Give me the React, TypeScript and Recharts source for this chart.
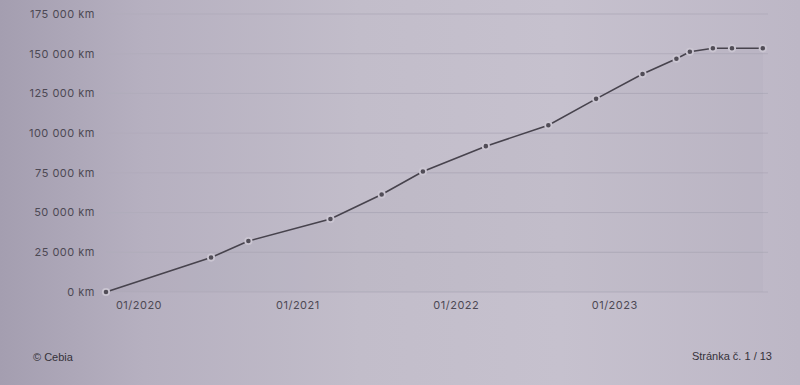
import React from "react";
import { ComposedChart, Area, Line, XAxis, YAxis, CartesianGrid } from "recharts";

// readings (date of inspection / odometer)
const DATES = [
  "2019-10-17", "2020-06-15", "2020-09-09", "2021-03-17", "2021-07-13",
  "2021-10-16", "2022-03-10", "2022-08-01", "2022-11-19", "2023-03-06",
  "2023-05-23", "2023-06-23", "2023-08-15", "2023-09-28", "2023-12-08",
];
const KM = [
  0, 21700, 32100, 46000, 61400,
  75900, 91800, 105000, 121600, 137200,
  146800, 151200, 153400, 153400, 153400,
];
const X_TICKS = ["2020-01-01", "2021-01-01", "2022-01-01", "2023-01-01"];
const Y_TICKS = [0, 25000, 50000, 75000, 100000, 125000, 150000, 175000];
const X_DOMAIN = ["2019-10-17", "2023-12-20"];

const ts = (d: string) => new Date(d + "T00:00:00Z").getTime();

const data = DATES.map((d, i) => ({ t: ts(d), km: KM[i] }));

const fmtKm = (v: number) => String(v).replace(/\B(?=(\d{3})+(?!\d))/g, " ") + " km";
const fmtMonth = (v: number) => {
  const d = new Date(v);
  return String(d.getUTCMonth() + 1).padStart(2, "0") + "/" + d.getUTCFullYear();
};

const tickStyle = {
  fontSize: 11,
  fill: "#4d4954",
  fontFamily: "Inter, 'Open Sans', sans-serif",
  letterSpacing: "0.5px",
};

export default function App() {
  return (
    <div
      style={{
        position: "absolute",
        left: 0,
        top: 0,
        width: 800,
        height: 385,
        overflow: "hidden",
        background:
          "linear-gradient(to right, #a49eb0 0%, #b6b0c0 18%, #c2bdca 45%, #c6c1ce 70%, #bdb7c6 100%)",
      }}
    >
      <ComposedChart
        width={800}
        height={330}
        data={data}
        margin={{ top: 14, right: 32, left: 0, bottom: 8 }}
      >
        <CartesianGrid vertical={false} stroke="#b1acbb" strokeWidth={1} />
        <XAxis
          dataKey="t"
          type="number"
          scale="time"
          domain={X_DOMAIN.map(ts)}
          ticks={X_TICKS.map(ts)}
          tickFormatter={fmtMonth}
          axisLine={false}
          tickLine={false}
          tickMargin={3}
          height={30}
          tick={tickStyle}
        />
        <YAxis
          type="number"
          domain={[0, 175000]}
          ticks={Y_TICKS}
          tickFormatter={fmtKm}
          axisLine={false}
          tickLine={false}
          tickMargin={5}
          width={106}
          tick={tickStyle}
        />
        <Area
          type="linear"
          dataKey="km"
          stroke="none"
          fill="#8f8a9a"
          fillOpacity={0.07}
          dot={false}
          activeDot={false}
          isAnimationActive={false}
        />
        <Line
          type="linear"
          dataKey="km"
          stroke="#47434d"
          strokeWidth={1.6}
          dot={{ r: 3.2, fill: "#514d57", stroke: "#cbc6d2", strokeWidth: 1.8 }}
          activeDot={false}
          isAnimationActive={false}
        />
      </ComposedChart>
      <div
        style={{
          position: "absolute",
          left: 33,
          top: 351,
          fontSize: 11,
          color: "#35323a",
          fontFamily: "'Liberation Sans', Arial, sans-serif",
        }}
      >
        © Cebia
      </div>
      <div
        style={{
          position: "absolute",
          right: 28,
          top: 350,
          fontSize: 11,
          color: "#35323a",
          fontFamily: "'Liberation Sans', Arial, sans-serif",
        }}
      >
        Stránka č. 1 / 13
      </div>
    </div>
  );
}
